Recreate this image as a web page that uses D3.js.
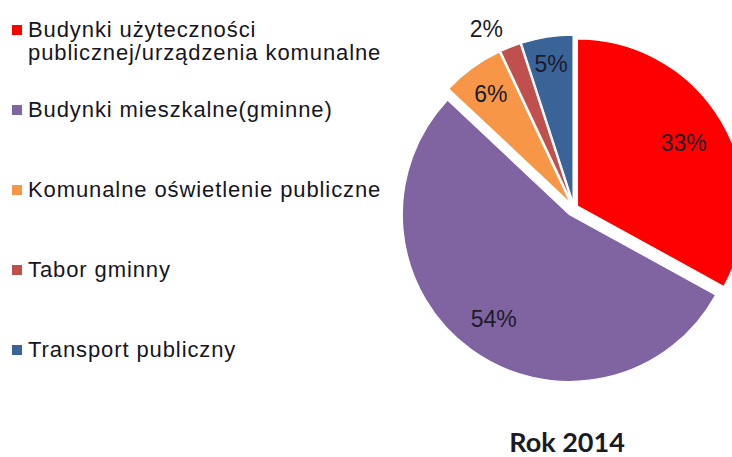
<!DOCTYPE html>
<html><head><meta charset="utf-8">
<script src="https://cdn.jsdelivr.net/npm/d3@7"></script>
<style>body{margin:0;background:#fff}svg{display:block}</style>
</head><body>
<svg id="c" width="732" height="457"></svg>
<script>
const categories = [
  ["Budynki użyteczności", "publicznej/urządzenia komunalne"],
  ["Budynki mieszkalne(gminne)"],
  ["Komunalne oświetlenie publiczne"],
  ["Tabor gminny"],
  ["Transport publiczny"]
];
const values = [33, 54, 6, 2, 5];
const labels = ["33%", "54%", "6%", "2%", "5%"];
const colors = ["#FF0000", "#8064A2", "#F79646", "#C0504D", "#3A6497"];
const title = "Rok 2014";

// layout config
const cx = 574, cy = 208, R = 167;
const explode = [4, 8, 6, 6, 6];
const labelFrac = [0.74, 0.77, 0.81, 1.16, 0.84];
const labelAngleShift = [0, 0, 0, -0.08, 0];

const svg = d3.select("#c");
const pie = d3.pie().sort(null).value(d => d)(values);
const arc = d3.arc().innerRadius(0).outerRadius(R);

const g = svg.append("g");
pie.forEach((p, i) => {
  const mid = (p.startAngle + p.endAngle) / 2;
  const ox = cx + explode[i] * Math.sin(mid);
  const oy = cy - explode[i] * Math.cos(mid);
  const sg = g.append("g").attr("transform", `translate(${ox},${oy})`);
  sg.append("path").attr("d", arc(p)).attr("fill", colors[i])
    .attr("stroke", "#fff").attr("stroke-width", 1.2);
});
pie.forEach((p, i) => {
  const mid0 = (p.startAngle + p.endAngle) / 2;
  const mid = mid0 + labelAngleShift[i];
  const ox = cx + explode[i] * Math.sin(mid0);
  const oy = cy - explode[i] * Math.cos(mid0);
  const r = R * labelFrac[i];
  g.append("text")
    .attr("x", ox + r * Math.sin(mid))
    .attr("y", oy - r * Math.cos(mid))
    .attr("text-anchor", "middle").attr("dominant-baseline", "central")
    .attr("font-family", "Liberation Sans, Arial, sans-serif")
    .attr("font-size", 23).attr("fill", "#1b1b2a")
    .text(labels[i]);
});

// legend
const leg = svg.append("g");
const y0 = 37, step = 80;
categories.forEach((lines, i) => {
  const by = y0 + i * step;
  leg.append("rect").attr("x", 12).attr("y", by - 12).attr("width", 10).attr("height", 10)
    .attr("fill", colors[i]);
  const t = leg.append("text").attr("x", 28).attr("y", by)
    .attr("font-family", "Liberation Sans, Arial, sans-serif")
    .attr("font-size", 22).attr("letter-spacing", "0.9px").attr("fill", "#161622");
  lines.forEach((ln, k) => {
    t.append("tspan").attr("x", 28).attr("dy", k === 0 ? 0 : 23).text(ln);
  });
});

svg.append("text").attr("x", 567).attr("y", 452).attr("text-anchor", "middle")
  .attr("font-family", "Lato, 'Open Sans', sans-serif").attr("font-weight", "bold")
  .attr("font-size", 27).attr("fill", "#1b1b25").text(title);
</script>
</body></html>
